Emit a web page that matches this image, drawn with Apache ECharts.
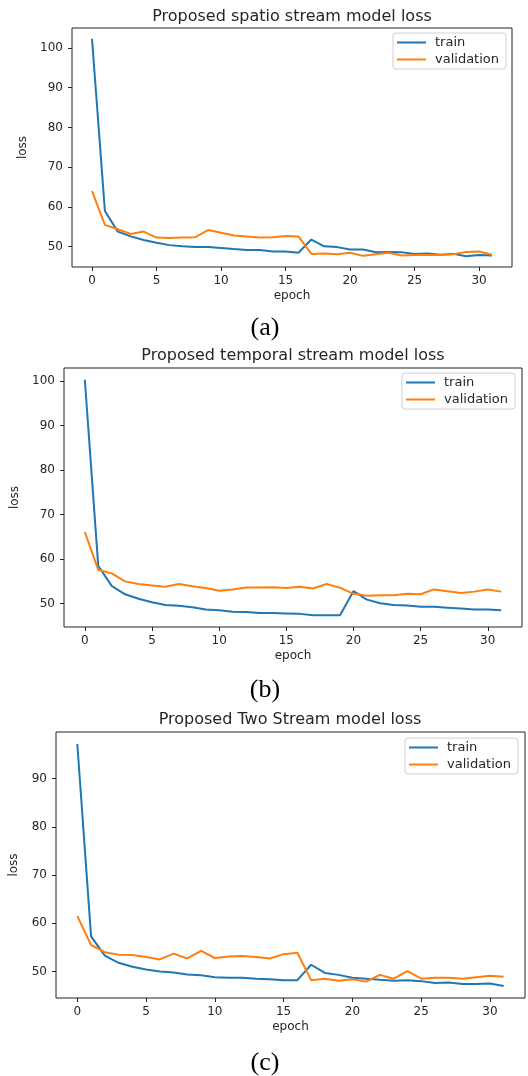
<!DOCTYPE html>
<html>
<head>
    <meta charset="utf-8">
    <title>model loss</title>
    <script src="https://cdn.jsdelivr.net/npm/echarts@6/dist/echarts.min.js"></script>
    <style>
        html, body { margin: 0; padding: 0; background: #fff; }
        #main { width: 528px; height: 1076px; }
    </style>
</head>
<body>
<div id="main"></div>
<script type="text/javascript">
    // epochs 0..31
    var epochs = [];
    for (var e = 0; e < 32; e++) epochs.push(e);

    // (a) spatio stream
    var spatioTrain = [102.3, 59.0, 53.8, 52.6, 51.7, 51.0, 50.4, 50.1, 49.9, 49.9, 49.7, 49.4, 49.2, 49.2, 48.8, 48.8,
        48.5, 51.8, 50.1, 49.9, 49.3, 49.3, 48.6, 48.7, 48.6, 48.2, 48.3, 48.0, 48.2, 47.6, 47.9, 47.8];
    var spatioVal = [64.0, 55.5, 54.4, 53.2, 53.8, 52.3, 52.2, 52.3, 52.4, 54.2, 53.5, 52.8, 52.6, 52.3, 52.4, 52.7,
        52.6, 48.2, 48.3, 48.1, 48.5, 47.7, 48.1, 48.5, 47.8, 47.9, 47.9, 47.9, 48.1, 48.7, 48.8, 48.0];

    // (b) temporal stream
    var temporalTrain = [100.3, 58.5, 54.0, 52.1, 51.1, 50.3, 49.7, 49.5, 49.2, 48.7, 48.5, 48.2, 48.1, 47.9, 47.9, 47.8,
        47.7, 47.4, 47.4, 47.4, 52.8, 50.9, 50.1, 49.7, 49.6, 49.3, 49.3, 49.1, 48.9, 48.7, 48.7, 48.5];
    var temporalVal = [66.1, 57.6, 56.8, 55.0, 54.4, 54.1, 53.8, 54.4, 53.9, 53.5, 52.9, 53.2, 53.6, 53.6, 53.7, 53.5,
        53.8, 53.4, 54.4, 53.6, 52.2, 51.8, 51.9, 51.9, 52.2, 52.1, 53.2, 52.8, 52.4, 52.7, 53.2, 52.7];

    // (c) two stream
    var twoTrain = [97.2, 57.3, 53.3, 51.8, 51.0, 50.4, 50.0, 49.8, 49.4, 49.2, 48.8, 48.7, 48.7, 48.5, 48.4, 48.2,
        48.2, 51.4, 49.7, 49.3, 48.7, 48.5, 48.3, 48.1, 48.2, 48.0, 47.6, 47.7, 47.4, 47.4, 47.5, 47.0];
    var twoVal = [61.5, 55.5, 54.0, 53.5, 53.4, 53.0, 52.5, 53.7, 52.7, 54.3, 52.8, 53.1, 53.2, 53.0, 52.7, 53.6,
        53.9, 48.2, 48.5, 48.1, 48.4, 47.9, 49.3, 48.5, 50.1, 48.5, 48.7, 48.7, 48.5, 48.8, 49.1, 48.9];

    var xTicks = [0, 5, 10, 15, 20, 25, 30];
    var yTicksA = [50, 60, 70, 80, 90, 100];
    var yTicksB = [50, 60, 70, 80, 90, 100];
    var yTicksC = [50, 60, 70, 80, 90];

    var titles = ['Proposed spatio stream model loss', 'Proposed temporal stream model loss', 'Proposed Two Stream model loss'];
    var captions = ['(a)', '(b)', '(c)'];

    var FONT = 'DejaVu Sans';
    var TXT = '#262626';

    // panel layout (pixels)
    var panels = [
        {left: 72, right: 16, top: 28, height: 239, yMin: 44.9, yMax: 105.0, yTicks: yTicksA, nameGap: 42,
            titleX: 292, titleY: 17, capY: 328, legRight: 22, legTop: 33, train: spatioTrain, val: spatioVal},
        {left: 64, right: 6, top: 368, height: 259, yMin: 44.75, yMax: 102.95, yTicks: yTicksB, nameGap: 43,
            titleX: 293, titleY: 356, capY: 690, legRight: 13, legTop: 373, train: temporalTrain, val: temporalVal},
        {left: 56, right: 3, top: 732, height: 266, yMin: 44.5, yMax: 99.7, yTicks: yTicksC, nameGap: 36,
            titleX: 290, titleY: 720, capY: 1063, legRight: 10, legTop: 738, train: twoTrain, val: twoVal}
    ];

    function pairs(arr) {
        var out = [];
        for (var i = 0; i < arr.length; i++) out.push([epochs[i], arr[i]]);
        return out;
    }

    var option = {
        animation: false,
        backgroundColor: '#fff',
        title: [], grid: [], xAxis: [], yAxis: [], legend: [], series: []
    };

    for (var p = 0; p < panels.length; p++) {
        var c = panels[p];
        option.title.push({
            text: titles[p], left: c.titleX, top: c.titleY, padding: 0,
            textAlign: 'center', textVerticalAlign: 'middle',
            textStyle: {fontFamily: FONT, fontSize: 16, fontWeight: 'normal', color: TXT}
        });
        option.title.push({
            text: captions[p], left: 265, top: c.capY, padding: 0,
            textAlign: 'center', textVerticalAlign: 'middle',
            textStyle: {fontFamily: 'Liberation Serif', fontSize: 26, fontWeight: 'normal', color: '#000'}
        });
        option.grid.push({
            left: c.left, right: c.right, top: c.top, height: c.height,
            show: true, borderColor: '#222', borderWidth: 1, containLabel: false
        });
        option.xAxis.push({
            type: 'value', gridIndex: p, min: -1.55, max: 32.55,
            name: 'epoch', nameLocation: 'middle', nameGap: 23,
            nameTextStyle: {fontFamily: FONT, fontSize: 12, color: TXT},
            axisLine: {show: false, onZero: false},
            axisTick: {show: true, length: 4, lineStyle: {color: '#222'}, customValues: xTicks},
            axisLabel: {fontFamily: FONT, fontSize: 12, color: TXT, margin: 8, customValues: xTicks},
            splitLine: {show: false}
        });
        option.yAxis.push({
            type: 'value', gridIndex: p, min: c.yMin, max: c.yMax,
            name: 'loss', nameLocation: 'middle', nameGap: c.nameGap,
            nameTextStyle: {fontFamily: FONT, fontSize: 12, color: TXT},
            axisLine: {show: false, onZero: false},
            axisTick: {show: true, length: 4, lineStyle: {color: '#222'}, customValues: c.yTicks},
            axisLabel: {fontFamily: FONT, fontSize: 12, color: TXT, margin: 9, customValues: c.yTicks},
            splitLine: {show: false}
        });
        option.legend.push({
            orient: 'vertical', right: c.legRight, top: c.legTop,
            data: ['train', 'validation'],
            icon: 'rect', itemWidth: 29, itemHeight: 2, itemGap: 4,
            padding: [3, 7, 3, 4],
            borderColor: '#d0d0d0', borderWidth: 1, borderRadius: 3,
            backgroundColor: 'rgba(255,255,255,0.8)',
            textStyle: {fontFamily: FONT, fontSize: 13, color: TXT, padding: [0, 0, 0, 4]},
            selectedMode: false
        });
        option.series.push({
            name: 'train', type: 'line', xAxisIndex: p, yAxisIndex: p,
            data: pairs(c.train), showSymbol: false, color: '#1f77b4',
            lineStyle: {width: 2, color: '#1f77b4'}
        });
        option.series.push({
            name: 'validation', type: 'line', xAxisIndex: p, yAxisIndex: p,
            data: pairs(c.val), showSymbol: false, color: '#ff7f0e',
            lineStyle: {width: 2, color: '#ff7f0e'}
        });
    }

    var myChart = echarts.init(document.getElementById('main'));
    myChart.setOption(option);
</script>
</body>
</html>
